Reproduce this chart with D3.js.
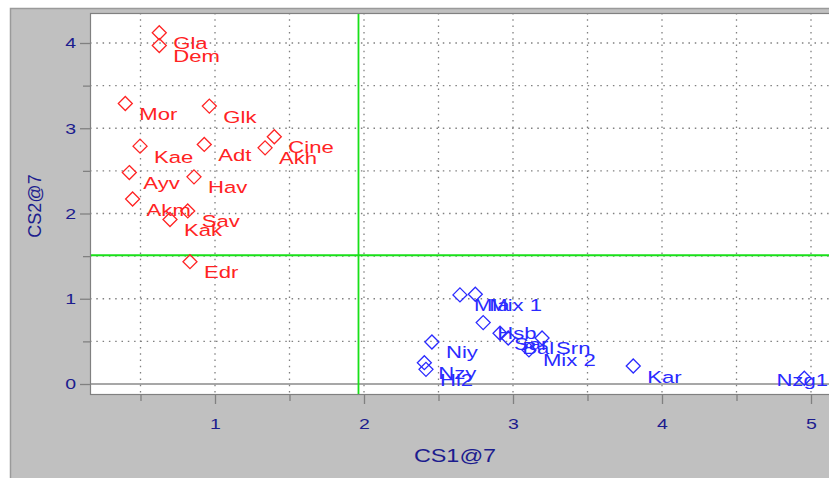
<!DOCTYPE html>
<html>
<head>
<meta charset="utf-8">
<script src="https://cdn.jsdelivr.net/npm/d3@7"></script>
<style>
  html, body { margin: 0; padding: 0; background: #ffffff; }
  svg { display: block; }
  text { font-family: "Liberation Sans", Arial, sans-serif; }
</style>
</head>
<body>
<svg id="chart" width="829" height="478"></svg>
<script>
// ---- data ----
const groupANames = ["Gla","Dem","Mor","Glk","Kae","Adt","Cine","Akh","Ayv","Hav","Akm","Sav","Kak","Edr"];
const groupAX = [0.626,0.626,0.398,0.962,0.497,0.928,1.398,1.336,0.425,0.859,0.447,0.817,0.698,0.832];
const groupAY = [4.12,3.97,3.29,3.26,2.79,2.81,2.90,2.77,2.48,2.43,2.17,2.03,1.93,1.435];

const groupBNames = ["Mla","Mix 1","Hsb","Sar","Bal","Srn","Mix 2","Niy","Nzy","Hl2","Kar","Nzg1"];
const groupBX = [2.644,2.747,2.800,2.913,2.968,3.195,3.107,2.456,2.405,2.416,3.807,4.955];
const groupBY = [1.045,1.053,0.720,0.595,0.540,0.540,0.400,0.493,0.250,0.172,0.211,0.067];

const xTickLabels = [1,2,3,4,5];
const yTickLabels = [0,1,2,3,4];
const xThreshold = 1.963;
const yThreshold = 1.51;
const xTitle = "CS1@7";
const yTitle = "CS2@7";

// ---- layout ----
const W = 829, H = 478;
const plotL = 90, plotT = 13, plotB = 394, plotR = 845;
const stretch = 1.3;

const svg = d3.select("#chart");

const x = d3.scaleLinear().domain([0, 5]).range([66, 811]);
const y = d3.scaleLinear().domain([0, 4]).range([384, 43]);

// outer panel
svg.append("rect").attr("x", 10.5).attr("y", 8.5).attr("width", 840).attr("height", 490)
  .attr("fill", "#c0c0c0").attr("stroke", "#9a9a9a").attr("stroke-width", 1.5);

// plot area
svg.append("rect").attr("x", plotL + 0.5).attr("y", plotT + 0.5)
  .attr("width", plotR - plotL).attr("height", plotB - plotT)
  .attr("fill", "#ffffff").attr("stroke", "#808080").attr("stroke-width", 1.2);

svg.append("clipPath").attr("id", "clip").append("rect")
  .attr("x", plotL + 1).attr("y", plotT + 1).attr("width", plotR - plotL).attr("height", plotB - plotT - 1);

const grid = svg.append("g").attr("clip-path", "url(#clip)");
const xGrid = d3.range(0.5, 5.01, 0.5);
const yGrid = d3.range(0.5, 4.01, 0.5);
grid.selectAll(".vg").data(xGrid).join("line")
  .attr("x1", d => x(d)).attr("x2", d => x(d)).attr("y1", plotT).attr("y2", plotB)
  .attr("stroke", "#808080").attr("stroke-width", 1.3).attr("stroke-dasharray", "1.5,4.8");
grid.selectAll(".hg").data(yGrid).join("line")
  .attr("y1", d => y(d)).attr("y2", d => y(d)).attr("x1", plotL).attr("x2", plotR)
  .attr("stroke", "#808080").attr("stroke-width", 1.3).attr("stroke-dasharray", "1.5,4.8");
// zero line
grid.append("line").attr("x1", plotL).attr("x2", plotR).attr("y1", y(0)).attr("y2", y(0))
  .attr("stroke", "#8a8a8a").attr("stroke-width", 1.5);
// thresholds
grid.append("line").attr("x1", x(xThreshold)).attr("x2", x(xThreshold)).attr("y1", plotT).attr("y2", plotB)
  .attr("stroke", "#19e019").attr("stroke-width", 1.8);
grid.append("line").attr("x1", plotL).attr("x2", plotR).attr("y1", y(yThreshold)).attr("y2", y(yThreshold))
  .attr("stroke", "#19e019").attr("stroke-width", 1.8);

// axes
const axisColor = "#808080", labelColor = "#1c1c8e";
const yAxisMajor = d3.axisLeft(y).tickValues(yTickLabels).tickSize(10).tickPadding(4).tickFormat(d3.format("d"));
const yAxisMinor = d3.axisLeft(y).tickValues(yGrid.filter(v => v % 1 !== 0)).tickSize(7).tickFormat("");
const xAxisMajor = d3.axisBottom(x).tickValues(xTickLabels).tickSize(10).tickPadding(14).tickFormat(d3.format("d"));
const xAxisMinor = d3.axisBottom(x).tickValues(xGrid.filter(v => v % 1 !== 0)).tickSize(7).tickFormat("");

function styleAxis(g) {
  g.select(".domain").remove();
  g.selectAll(".tick line").attr("stroke", axisColor).attr("stroke-width", 1.3);
  g.selectAll(".tick text").attr("fill", labelColor).attr("font-size", 15)
    .attr("font-family", "'Liberation Sans', Arial, sans-serif");
}
const gy = svg.append("g").attr("transform", `translate(${plotL},0)`).call(yAxisMajor).call(styleAxis);
gy.selectAll(".tick text").attr("x", -14 / stretch).attr("transform", `scale(${stretch},1)`);
svg.append("g").attr("transform", `translate(${plotL},0)`).call(yAxisMinor).call(styleAxis);
const gx = svg.append("g").attr("transform", `translate(0,${plotB})`).call(xAxisMajor).call(styleAxis);
gx.selectAll(".tick text").attr("transform", `scale(${stretch},1)`);
svg.append("g").attr("transform", `translate(0,${plotB})`).call(xAxisMinor).call(styleAxis);

// titles
svg.append("text").attr("transform", `translate(455,462) scale(${stretch},1)`)
  .attr("text-anchor", "middle").attr("font-size", 18).attr("fill", labelColor).text(xTitle);
svg.append("text").attr("transform", "translate(41,206) rotate(-90)")
  .attr("text-anchor", "middle").attr("font-size", 18).attr("fill", labelColor).text(yTitle);

// points
const diamond = "M0,-7L7,0L0,7L-7,0Z";
function drawGroup(names, xs, ys, color) {
  const data = names.map((n, i) => ({ name: n, x: xs[i], y: ys[i] }));
  const g = svg.append("g");
  g.selectAll("path").data(data).join("path")
    .attr("d", diamond)
    .attr("transform", d => `translate(${x(d.x)},${y(d.y)})`)
    .attr("fill", "none").attr("stroke", color).attr("stroke-width", 1.3);
  g.selectAll("text").data(data).join("text")
    .attr("font-size", 17).attr("fill", color)
    .text(d => d.name)
    .each(function (d) {
      const w = this.getComputedTextLength() * stretch;
      let lx = x(d.x) + 14, ly = y(d.y) + 16.5;
      if (lx + w > W - 1) { lx = W - 1 - w; ly = y(d.y) + 8; }
      d3.select(this).attr("transform", `translate(${lx},${ly}) scale(${stretch},1)`);
    });
}
drawGroup(groupANames, groupAX, groupAY, "#ff2323");
drawGroup(groupBNames, groupBX, groupBY, "#2a2aff");
</script>
</body>
</html>
